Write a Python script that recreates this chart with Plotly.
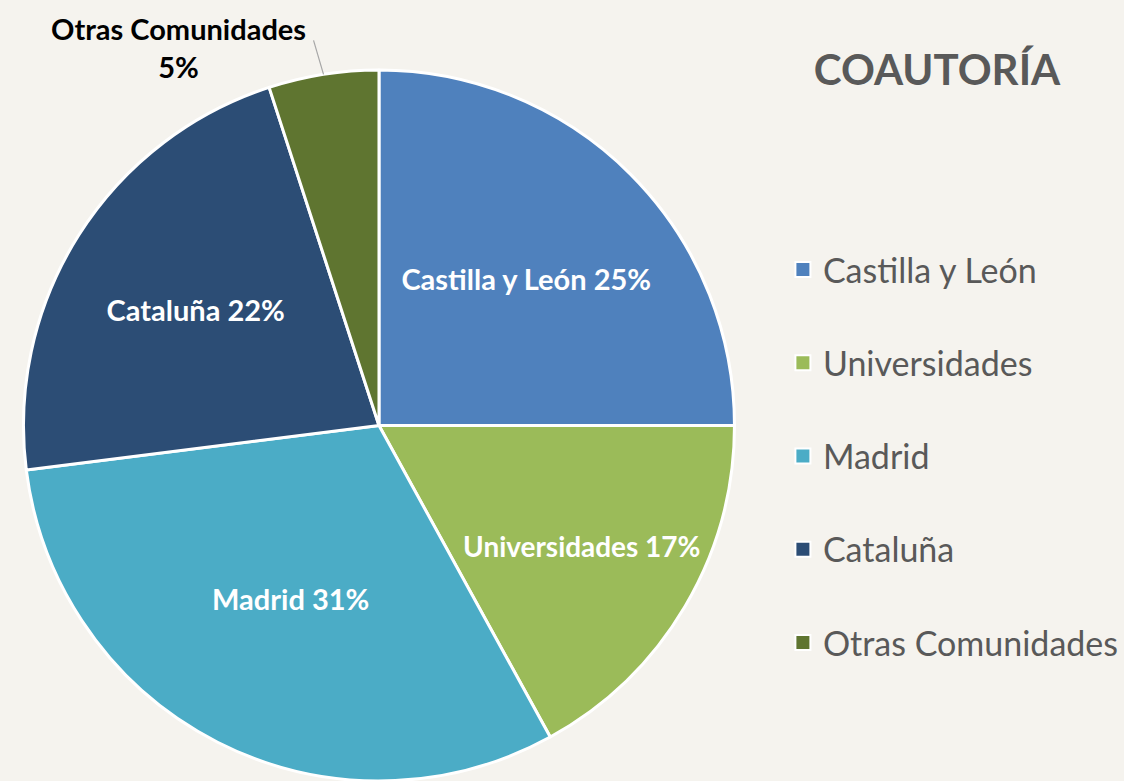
import math
import plotly.graph_objects as go

categories = ["Castilla y León", "Universidades", "Madrid", "Cataluña", "Otras Comunidades"]
values = [25, 17, 31, 22, 5]
colors = ["#4F81BD", "#9BBB59", "#4BACC6", "#2C4D75", "#5F7530"]
title_text = "COAUTORÍA"

BG = "#F5F3EE"
W, H = 1124, 781
dom_x = [22 / W, 738 / W]
dom_y = [0.0, 1 - 70 / H]

total = sum(values)
texts = [f"{c} {round(v / total * 100)}%" for c, v in zip(categories, values)]
texts[-1] = ""

fig = go.Figure()
fig.add_trace(go.Pie(
    labels=categories, values=values, text=texts, textinfo="text",
    sort=False, direction="clockwise", rotation=0,
    marker=dict(colors=colors, line=dict(color="white", width=3)),
    textposition="inside", insidetextorientation="horizontal",
    textfont=dict(family="Lato", size=29, color="white", weight="bold"),
    domain=dict(x=dom_x, y=dom_y), showlegend=False, hoverinfo="label+percent",
))

# legend entries
for i, (c, col) in enumerate(zip(categories, colors)):
    fig.add_trace(go.Scatter(
        x=[None], y=[None], mode="markers", name=c, legendgroup=c,
        marker=dict(symbol="square", size=15, color=col, line=dict(color="white", width=2)),
    ))

# outside label for the last slice, with leader line from slice edge
cum = sum(values[:-1]) + values[-1] / 2
ang = cum / total * 2 * math.pi
cx = (dom_x[0] + dom_x[1]) / 2 * W
r = (dom_y[1] - dom_y[0]) * H / 2
cy = H - (dom_y[0] + dom_y[1]) / 2 * H
ex, ey = cx + r * math.sin(ang), cy - r * math.cos(ang)
tx, ty = ex - 10, ey - 34
fig.add_shape(type="line", xref="paper", yref="paper",
              x0=ex / W, y0=1 - ey / H, x1=tx / W, y1=1 - ty / H,
              line=dict(color="#A6A6A6", width=1.2))
fig.add_annotation(xref="paper", yref="paper", x=(tx - 6) / W, y=1 - (ey - 27) / H,
                   xanchor="right", yanchor="middle", showarrow=False, align="center",
                   text=f"{categories[-1]}<br>{round(values[-1] / total * 100)}%",
                   font=dict(family="Lato", size=29, color="black", weight="bold"))

fig.update_layout(
    width=W, height=H, margin=dict(l=0, r=0, t=0, b=0),
    paper_bgcolor=BG, plot_bgcolor=BG,
    xaxis=dict(visible=False), yaxis=dict(visible=False),
    title=dict(text=title_text, x=937 / W, xanchor="center", y=1 - 70 / H, yanchor="middle",
               font=dict(family="Lato", size=42, color="#595959", weight="bold")),
    legend=dict(x=785 / W, xanchor="left", y=1 - 241 / H, yanchor="top",
                font=dict(family="Lato", size=34, color="#595959"),
                tracegroupgap=46, bgcolor="rgba(0,0,0,0)"),
)

fig.write_html("out.html", config={"displayModeBar": False},
               post_script="document.body.style.margin='0';document.body.style.overflow='hidden';")
